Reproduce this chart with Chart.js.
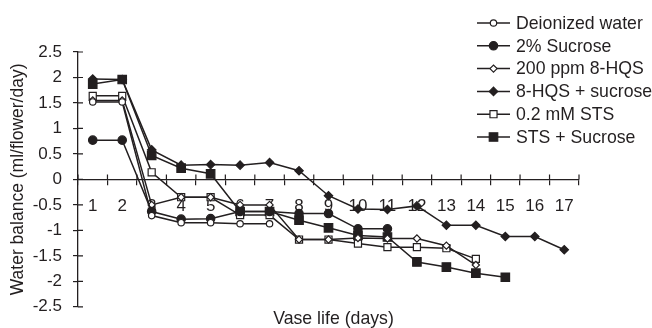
<!DOCTYPE html>
<html>
<head>
<meta charset="utf-8">
<script src="https://cdn.jsdelivr.net/npm/chart.js"></script>
<style>
  html, body { margin: 0; padding: 0; background: #fff; }
</style>
</head>
<body>
<canvas id="myChart" width="652" height="328"></canvas>
<script>
/*
-------------------------------------
/// data
-------------------------------------
*/
const days = ['1', '2', '3', '4', '5', '6', '7', '8', '9', '10', '11', '12', '13', '14', '15', '16', '17'];

const deionized   = [1.52, 1.52, -0.71, -0.85, -0.85, -0.87, -0.87];
const sucrose2    = [0.77, 0.77, -0.63, -0.78, -0.77, -0.63, -0.63, -0.67, -0.67, -0.97, -0.97];
const hqs200      = [1.55, 1.55, -0.5, -0.35, -0.35, -0.5, -0.5, -1.18, -1.18, -1.15, -1.16, -1.16, -1.3, -1.68];
const hqsSucrose  = [1.97, 1.96, 0.58, 0.28, 0.29, 0.28, 0.33, 0.17, -0.32, -0.58, -0.59, -0.52, -0.9, -0.9, -1.12, -1.12, -1.38];
const sts         = [1.64, 1.64, 0.14, -0.35, -0.35, -0.7, -0.7, -1.18, -1.18, -1.26, -1.33, -1.33, -1.35, -1.56];
const stsSucrose  = [1.87, 1.96, 0.47, 0.22, 0.11, -0.63, -0.63, -0.8, -0.95, -1.1, -1.13, -1.62, -1.72, -1.84, -1.92];

const seriesNames = ['Deionized water', '2% Sucrose', '200 ppm 8-HQS', '8-HQS + sucrose', '0.2 mM STS', 'STS + Sucrose'];

const ink = '#231f20';
const fontFamily = '"Liberation Sans", Arial, sans-serif';

/*
-------------------------------------
/// datasets
-------------------------------------
*/
function series(label, data, style, radius, filled) {
  return {
    label: label,
    data: data,
    borderColor: ink,
    borderWidth: 1.5,
    pointStyle: style,
    pointRadius: radius,
    pointHoverRadius: radius,
    pointBorderWidth: 1.2,
    pointBorderColor: ink,
    pointBackgroundColor: filled ? ink : '#fff',
    fill: false,
    tension: 0
  };
}

const datasets = [
  series(seriesNames[0], deionized, 'circle', 3.2, false),
  series(seriesNames[1], sucrose2, 'circle', 4.2, true),
  series(seriesNames[2], hqs200, 'rectRot', 3.6, false),
  series(seriesNames[3], hqsSucrose, 'rectRot', 4.2, true),
  series(seriesNames[4], sts, 'rect', 5, false),
  series(seriesNames[5], stsSucrose, 'rect', 6, true)
];

/*
-------------------------------------
/// plugins: inner ticks, legend, x title
-------------------------------------
*/
const innerTicks = {
  id: 'innerTicks',
  afterDraw(chart) {
    const ctx = chart.ctx;
    const xs = chart.scales.x, ys = chart.scales.y;
    const y0 = ys.getPixelForValue(0);
    const left = chart.chartArea.left;
    ctx.save();
    ctx.strokeStyle = ink;
    ctx.lineWidth = 1.2;
    ctx.beginPath();
    ys.ticks.forEach((t, i) => {
      const py = ys.getPixelForTick(i);
      ctx.moveTo(left, py);
      ctx.lineTo(left + 5, py);
    });
    const step = (xs.right - xs.left) / days.length;
    for (let k = 0; k <= days.length; k++) {
      const px = xs.left + k * step;
      ctx.moveTo(px, y0);
      ctx.lineTo(px, y0 - 5);
    }
    ctx.stroke();
    ctx.restore();
  }
};

function marker(ctx, ds, x, y) {
  const r = ds.pointRadius;
  ctx.beginPath();
  if (ds.pointStyle === 'circle') {
    ctx.arc(x, y, r, 0, Math.PI * 2);
  } else if (ds.pointStyle === 'rect') {
    const s = r * Math.SQRT1_2;
    ctx.rect(x - s, y - s, 2 * s, 2 * s);
  } else {
    ctx.moveTo(x - r, y);
    ctx.lineTo(x, y - r);
    ctx.lineTo(x + r, y);
    ctx.lineTo(x, y + r);
    ctx.closePath();
  }
  ctx.fill();
  ctx.stroke();
}

const sideLegend = {
  id: 'sideLegend',
  afterDraw(chart) {
    const ctx = chart.ctx;
    ctx.save();
    ctx.font = '17.7px ' + fontFamily;
    ctx.textBaseline = 'middle';
    chart.data.datasets.forEach((ds, i) => {
      const y = 23 + i * 22.8;
      ctx.strokeStyle = ink;
      ctx.lineWidth = 1.5;
      ctx.beginPath();
      ctx.moveTo(477, y);
      ctx.lineTo(510, y);
      ctx.stroke();
      ctx.lineWidth = 1.2;
      ctx.fillStyle = ds.pointBackgroundColor;
      marker(ctx, ds, 493.5, y);
      ctx.fillStyle = ink;
      ctx.fillText(ds.label, 516, y + 1);
    });

    // x axis title sits at the bottom, not next to the zero line
    const area = chart.chartArea;
    ctx.textAlign = 'center';
    ctx.fillText('Vase life (days)', (area.left + area.right) / 2 + 5, area.bottom + 12);
    ctx.restore();
  }
};

/*
-------------------------------------
/// chart
-------------------------------------
*/
Chart.defaults.font.family = fontFamily;
Chart.defaults.font.size = 17;
Chart.defaults.color = ink;

const ctx = document.getElementById('myChart').getContext('2d');
const myChart = new Chart(ctx, {
  type: 'line',
  data: {
    labels: days,
    datasets: datasets
  },
  options: {
    responsive: false,
    animation: false,
    layout: {
      padding: { top: 52, right: 73, bottom: 0, left: 0 }
    },
    plugins: {
      legend: { display: false },
      tooltip: { enabled: false }
    },
    scales: {
      x: {
        type: 'category',
        offset: true,
        position: { y: 0 },
        ticks: { padding: 12, autoSkip: false, maxRotation: 0, color: ink },
        grid: { drawOnChartArea: false, tickLength: 5, color: ink, lineWidth: 1.2, offset: true },
        border: { color: ink, width: 1.3 },
        afterFit: function(scale) { scale.height = 24; }
      },
      y: {
        min: -2.5,
        max: 2.5,
        ticks: {
          stepSize: 0.5,
          padding: 11,
          color: ink,
          callback: function(value) { return String(value); }
        },
        grid: { drawOnChartArea: false, tickLength: 5, color: ink, lineWidth: 1.2 },
        border: { color: ink, width: 1.3 },
        title: {
          display: true,
          text: 'Water balance (ml/flower/day)',
          color: ink,
          font: { size: 17.5 },
          padding: { top: 8, bottom: 0 }
        },
        afterFit: function(scale) { scale.width = 78; }
      }
    }
  },
  plugins: [innerTicks, sideLegend]
});
</script>
</body>
</html>
